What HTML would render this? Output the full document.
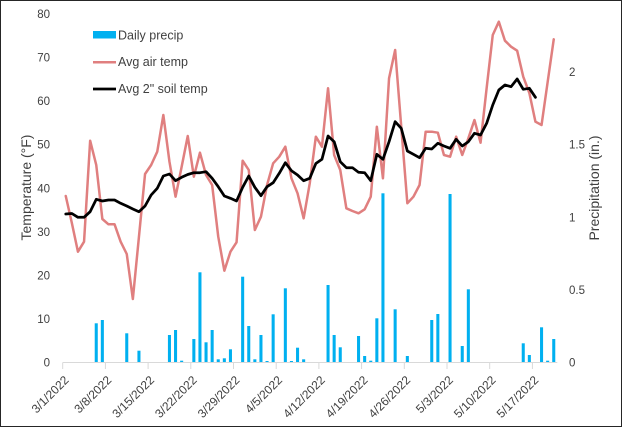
<!DOCTYPE html>
<html>
<head>
<meta charset="utf-8">
<style>
  html, body { margin: 0; padding: 0; background: #ffffff; }
  body { width: 624px; height: 429px; overflow: hidden; }
  svg { display: block; }
  text { font-family: "Liberation Sans", Arial, sans-serif; fill: #404040; }
</style>
</head>
<body>
<svg width="624" height="429" viewBox="0 0 624 429" xmlns="http://www.w3.org/2000/svg">
  <rect x="0" y="0" width="624" height="429" fill="#ffffff"/>
  <rect x="0.5" y="0.5" width="621" height="426" fill="none" stroke="#262626" stroke-width="1"/>

  <g transform="translate(65.75,0) scale(6.1,1)" fill="#00B0F0">
    <rect x="4.75" y="323.3" width="0.5" height="39.2"/>
    <rect x="5.75" y="320" width="0.5" height="42.5"/>
    <rect x="9.75" y="333.3" width="0.5" height="29.2"/>
    <rect x="11.75" y="350.7" width="0.5" height="11.8"/>
    <rect x="16.75" y="335" width="0.5" height="27.5"/>
    <rect x="17.75" y="330" width="0.5" height="32.5"/>
    <rect x="18.75" y="360.7" width="0.5" height="1.8"/>
    <rect x="20.75" y="339" width="0.5" height="23.5"/>
    <rect x="21.75" y="272.3" width="0.5" height="90.2"/>
    <rect x="22.75" y="342.3" width="0.5" height="20.2"/>
    <rect x="23.75" y="330" width="0.5" height="32.5"/>
    <rect x="24.75" y="359.3" width="0.5" height="3.2"/>
    <rect x="25.75" y="358.3" width="0.5" height="4.2"/>
    <rect x="26.75" y="349.3" width="0.5" height="13.2"/>
    <rect x="28.75" y="276.7" width="0.5" height="85.8"/>
    <rect x="29.75" y="326" width="0.5" height="36.5"/>
    <rect x="30.75" y="359.3" width="0.5" height="3.2"/>
    <rect x="31.75" y="335" width="0.5" height="27.5"/>
    <rect x="32.75" y="361" width="0.5" height="1.5"/>
    <rect x="33.75" y="314.3" width="0.5" height="48.2"/>
    <rect x="35.75" y="288.3" width="0.5" height="74.2"/>
    <rect x="36.75" y="361" width="0.5" height="1.5"/>
    <rect x="37.75" y="347.7" width="0.5" height="14.8"/>
    <rect x="38.75" y="359.3" width="0.5" height="3.2"/>
    <rect x="42.75" y="285" width="0.5" height="77.5"/>
    <rect x="43.75" y="335" width="0.5" height="27.5"/>
    <rect x="44.75" y="347.3" width="0.5" height="15.2"/>
    <rect x="47.75" y="336" width="0.5" height="26.5"/>
    <rect x="48.75" y="356" width="0.5" height="6.5"/>
    <rect x="49.75" y="360.7" width="0.5" height="1.8"/>
    <rect x="50.75" y="318.3" width="0.5" height="44.2"/>
    <rect x="51.75" y="193.3" width="0.5" height="169.2"/>
    <rect x="53.75" y="309.3" width="0.5" height="53.2"/>
    <rect x="55.75" y="356" width="0.5" height="6.5"/>
    <rect x="59.75" y="320" width="0.5" height="42.5"/>
    <rect x="60.75" y="314" width="0.5" height="48.5"/>
    <rect x="62.75" y="194" width="0.5" height="168.5"/>
    <rect x="64.75" y="346" width="0.5" height="16.5"/>
    <rect x="65.75" y="289.3" width="0.5" height="73.2"/>
    <rect x="74.75" y="343.3" width="0.5" height="19.2"/>
    <rect x="75.75" y="355" width="0.5" height="7.5"/>
    <rect x="77.75" y="327.3" width="0.5" height="35.2"/>
    <rect x="78.75" y="360.7" width="0.5" height="1.8"/>
    <rect x="79.75" y="339" width="0.5" height="23.5"/>
  </g>

  <g stroke="#D9D9D9" stroke-width="1">
    <line x1="62.7" y1="362.5" x2="557.3" y2="362.5"/>
    <line x1="62.7" y1="362.5" x2="62.7" y2="369"/>
    <line x1="105.4" y1="362.5" x2="105.4" y2="369"/>
    <line x1="148.1" y1="362.5" x2="148.1" y2="369"/>
    <line x1="190.8" y1="362.5" x2="190.8" y2="369"/>
    <line x1="233.5" y1="362.5" x2="233.5" y2="369"/>
    <line x1="276.2" y1="362.5" x2="276.2" y2="369"/>
    <line x1="318.9" y1="362.5" x2="318.9" y2="369"/>
    <line x1="361.6" y1="362.5" x2="361.6" y2="369"/>
    <line x1="404.3" y1="362.5" x2="404.3" y2="369"/>
    <line x1="447" y1="362.5" x2="447" y2="369"/>
    <line x1="489.7" y1="362.5" x2="489.7" y2="369"/>
    <line x1="532.4" y1="362.5" x2="532.4" y2="369"/>
  </g>

  <g transform="translate(65.75,0) scale(6.1,1)" fill="none" stroke-linejoin="round" stroke-linecap="round">
    <polyline vector-effect="non-scaling-stroke" stroke="#E07F7F" stroke-width="2.5"
      points="0,196 1,223 2,251.7 3,241.7 4,140.7 5,165 6,219 7,224.3 8,224.3 9,241.7 10,254 11,299 12,236.7 13,174 14,165 15,151.7 16,115 17,161.7 18,196.7 19,166.7 20,136 21,176.7 22,152.7 23,175 24,185 25,236.7 26,270.7 27,251.7 28,242.3 29,160.7 30,170 31,230 32,216.7 33,185 34,163.3 35,156.7 36,146.7 37,178.3 38,193.3 39,218.3 40,183.3 41,136.7 42,146.7 43,88.3 44,155 45,170 46,208.3 47,211 48,213.3 49,209.3 50,196.7 51,126.7 52,178.3 53,78.3 54,50 55,126.7 56,203.3 57,196.7 58,185 59,131.7 60,131.7 61,132.7 62,155 63,156.7 64,136.7 65,155 66,138.3 67,120 68,142.7 69,88 70,35 71,21.7 72,40.7 73,46.7 74,50.7 75,76.7 76,93 77,121.7 78,125 79,82 80,39.3"/>
    <polyline vector-effect="non-scaling-stroke" stroke="#000000" stroke-width="2.75"
      points="0,214 1,213.5 2,217.3 3,217.3 4,211.7 5,199.3 6,201 7,200 8,200 9,203.3 10,206 11,209 12,211.7 13,206 14,195 15,188.3 16,176 17,174 18,180.7 19,177.3 20,174.5 21,172.7 22,172.7 23,171.7 24,178.3 25,186.7 26,196 27,198.3 28,201 29,187.3 30,176 31,187.3 32,195.7 33,186.7 34,182.7 35,173.3 36,162.7 37,170.7 38,175 39,180.7 40,178.3 41,163.5 42,159.3 43,136 44,141.7 45,161.7 46,167.7 47,167.7 48,172.3 49,172.7 50,180.7 51,154.3 52,159.3 53,141.7 54,121.7 55,128.3 56,151 57,154.3 58,157.7 59,148.3 60,149 61,143.3 62,146 63,148.3 64,139.3 65,146 66,141.7 67,133.3 68,135 69,123.3 70,105 71,90 72,85 73,86.7 74,79 75,89.3 76,88.3 77,97.3"/>
  </g>

  <g font-size="11.5" text-anchor="end">
    <text x="50" y="366.5">0</text>
    <text x="50" y="322.9">10</text>
    <text x="50" y="279.4">20</text>
    <text x="50" y="235.8">30</text>
    <text x="50" y="192.3">40</text>
    <text x="50" y="148.7">50</text>
    <text x="50" y="105.1">60</text>
    <text x="50" y="61.6">70</text>
    <text x="50" y="18">80</text>
  </g>

  <g font-size="11.5" text-anchor="start">
    <text x="569" y="366.5">0</text>
    <text x="569" y="293.9">0.5</text>
    <text x="569" y="221.3">1</text>
    <text x="569" y="148.7">1.5</text>
    <text x="569" y="76.1">2</text>
  </g>

  <text x="31" y="187.5" font-size="14" text-anchor="middle" transform="rotate(-90 31 187.5)">Temperature (°F)</text>
  <text x="599" y="188" font-size="14" text-anchor="middle" transform="rotate(-90 599 188)">Precipitation (in.)</text>

  <g font-size="12" text-anchor="end" dominant-baseline="central">
    <text x="66.7" y="378" transform="rotate(-45 66.7 378)">3/1/2022</text>
    <text x="109.4" y="378" transform="rotate(-45 109.4 378)">3/8/2022</text>
    <text x="152.1" y="378" transform="rotate(-45 152.1 378)">3/15/2022</text>
    <text x="194.8" y="378" transform="rotate(-45 194.8 378)">3/22/2022</text>
    <text x="237.5" y="378" transform="rotate(-45 237.5 378)">3/29/2022</text>
    <text x="280.2" y="378" transform="rotate(-45 280.2 378)">4/5/2022</text>
    <text x="322.9" y="378" transform="rotate(-45 322.9 378)">4/12/2022</text>
    <text x="365.6" y="378" transform="rotate(-45 365.6 378)">4/19/2022</text>
    <text x="408.3" y="378" transform="rotate(-45 408.3 378)">4/26/2022</text>
    <text x="451" y="378" transform="rotate(-45 451 378)">5/3/2022</text>
    <text x="493.7" y="378" transform="rotate(-45 493.7 378)">5/10/2022</text>
    <text x="536.4" y="378" transform="rotate(-45 536.4 378)">5/17/2022</text>
  </g>

  <rect x="93" y="31" width="23" height="7.5" fill="#00B0F0"/>
  <text x="118" y="39.3" font-size="12.5">Daily precip</text>
  <line x1="93" y1="62.3" x2="116" y2="62.3" stroke="#E07F7F" stroke-width="2.5"/>
  <text x="118" y="66" font-size="12.5">Avg air temp</text>
  <line x1="93" y1="89" x2="116" y2="89" stroke="#000000" stroke-width="2.75"/>
  <text x="118" y="93" font-size="12.5">Avg 2" soil temp</text>
</svg>
</body>
</html>
